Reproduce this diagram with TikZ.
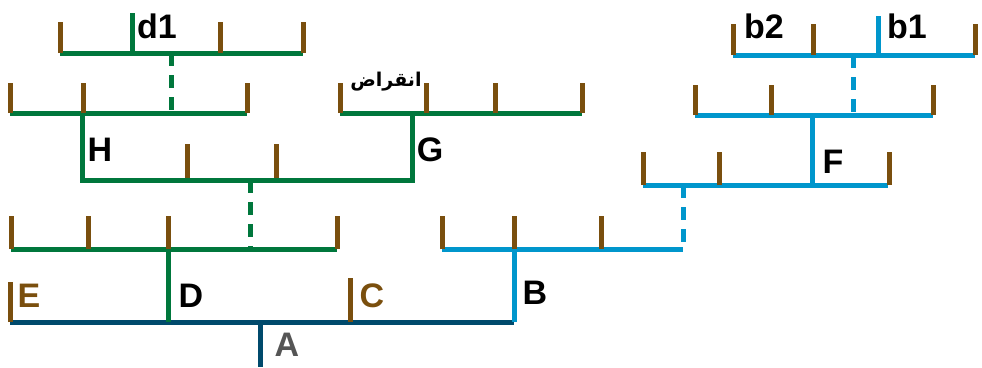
\documentclass[tikz,border=0pt]{standalone}
\usepackage{fontspec}
\setmainfont{Liberation Sans}
\newfontfamily\arabicfont[Script=Arabic]{DejaVu Sans}
\TeXXeTstate=1
\usetikzlibrary{positioning}

\definecolor{rootnavy}{HTML}{004A6C}
\definecolor{cladegreen}{HTML}{00773C}
\definecolor{cladeblue}{HTML}{0096CC}
\definecolor{tickbrown}{HTML}{7A4F0E}
\definecolor{labelgray}{HTML}{555555}

\begin{document}
\begin{tikzpicture}[
    x=1pt, y=-1pt,
    root/.style={draw=rootnavy, line width=5pt},
    gbranch/.style={draw=cladegreen, line width=5pt},
    bbranch/.style={draw=cladeblue, line width=5pt},
    tickmark/.style={draw=tickbrown, line width=5pt},
    gap/.style={dash pattern=on 13pt off 9pt},
    lbl/.style={font=\fontsize{34}{36}\selectfont\bfseries, inner sep=0pt}
]
\useasboundingbox (0,0) rectangle (982,367);

% Root
\coordinate (Aroot) at (260,367);
\coordinate (A) at (260,322);
\coordinate (Al) at (10,322);
\coordinate (Ar) at (514,322);
\draw[root] (Al) -- (Ar);
\draw[root] (A) -- (Aroot);

% Clade D (green)
\coordinate (D) at (168,322);
\coordinate (Dtop) at (168,249);
\coordinate (Dl) at (11,249);
\coordinate (Dr) at (337,249);
\coordinate (Dgap) at (250,249);
\coordinate (HG) at (250,180);
\draw[gbranch] (D) -- (Dtop);
\draw[gbranch] (Dl) -- (Dr);
\draw[gbranch, gap] (HG) -- (Dgap);

% Clades H and G
\coordinate (Htop) at (82,113);
\coordinate (Hl) at (82,180);
\coordinate (Gr) at (412,180);
\coordinate (Gtop) at (412,113);
\draw[gbranch] (Htop) -- (Hl) -- (Gr) -- (Gtop);

\coordinate (H1l) at (10,113);
\coordinate (H1r) at (247,113);
\coordinate (H1gap) at (171,113);
\coordinate (d1bar) at (171,53);
\draw[gbranch] (H1l) -- (H1r);
\draw[gbranch, gap] (d1bar) -- (H1gap);

\coordinate (d1l) at (60,53);
\coordinate (d1r) at (303,53);
\coordinate (d1) at (132,53);
\coordinate (d1top) at (132,13);
\draw[gbranch] (d1l) -- (d1r);
\draw[gbranch] (d1) -- (d1top);

\coordinate (G1l) at (340,113);
\coordinate (G1r) at (582,113);
\draw[gbranch] (G1l) -- (G1r);

% Clade B (blue)
\coordinate (Btop) at (514,249);
\coordinate (Bl) at (442,249);
\coordinate (Bgap) at (683,249);
\coordinate (Fbar) at (683,185);
\draw[bbranch] (Ar) -- (Btop);
\draw[bbranch] (Bl) -- (Bgap);
\draw[bbranch, gap] (Fbar) -- (Bgap);

% Clade F
\coordinate (Fl) at (643,185);
\coordinate (Fr) at (888,185);
\coordinate (F) at (812,185);
\coordinate (Ftop) at (812,115);
\draw[bbranch] (Fl) -- (Fr);
\draw[bbranch] (F) -- (Ftop);

\coordinate (F1l) at (695,115);
\coordinate (F1r) at (933,115);
\coordinate (F1gap) at (853,115);
\coordinate (b1bar) at (853,55);
\draw[bbranch] (F1l) -- (F1r);
\draw[bbranch, gap] (b1bar) -- (F1gap);

\coordinate (b1l) at (733,55);
\coordinate (b1r) at (975,55);
\coordinate (b1) at (878,55);
\coordinate (b1top) at (878,16);
\draw[bbranch] (b1l) -- (b1r);
\draw[bbranch] (b1) -- (b1top);

% Tips
\draw[tickmark] (10,322) -- ++(0,-40);
\draw[tickmark] (350,322) -- ++(0,-44);
\foreach \x in {11,88,168,337} \draw[tickmark] (\x,249) -- ++(0,-33);
\foreach \x in {187,276} \draw[tickmark] (\x,178) -- ++(0,-34);
\foreach \x in {10,83,247} \draw[tickmark] (\x,113) -- ++(0,-30);
\foreach \x in {60,220,303} \draw[tickmark] (\x,53) -- ++(0,-31);
\foreach \x in {340,426,495,582} \draw[tickmark] (\x,113) -- ++(0,-30);
\foreach \x in {442,514,601} \draw[tickmark] (\x,249) -- ++(0,-33);
\foreach \x in {643,719,889} \draw[tickmark] (\x,185) -- ++(0,-33);
\foreach \x in {695,771,933} \draw[tickmark] (\x,115) -- ++(0,-30);
\foreach \x in {733,813,975} \draw[tickmark] (\x,55) -- ++(0,-31);

% Labels
\node[lbl, text=labelgray] (Albl) at (287,345) {A};
\node[lbl] (Blbl) at (535,293) {B};
\node[lbl, text=tickbrown] (Clbl) at (372,296) {C};
\node[lbl] (Dlbl) at (191,296) {D};
\node[lbl, text=tickbrown] (Elbl) at (29,296) {E};
\node[lbl] (Hlbl) at (100,150) {H};
\node[lbl] (Glbl) at (430,150) {G};
\node[lbl] (Flbl) at (833,162) {F};
\node[lbl] (d1lbl) at (157,26) {d1};
\node[lbl] (b2lbl) at (764,26) {b2};
\node[lbl] (b1lbl) at (907,26) {b1};
\node[font=\arabicfont\bfseries\fontsize{19}{21}\selectfont, inner sep=0pt] (Extlbl) at (386,82) {\beginR انقراض\endR};

\end{tikzpicture}
\end{document}
